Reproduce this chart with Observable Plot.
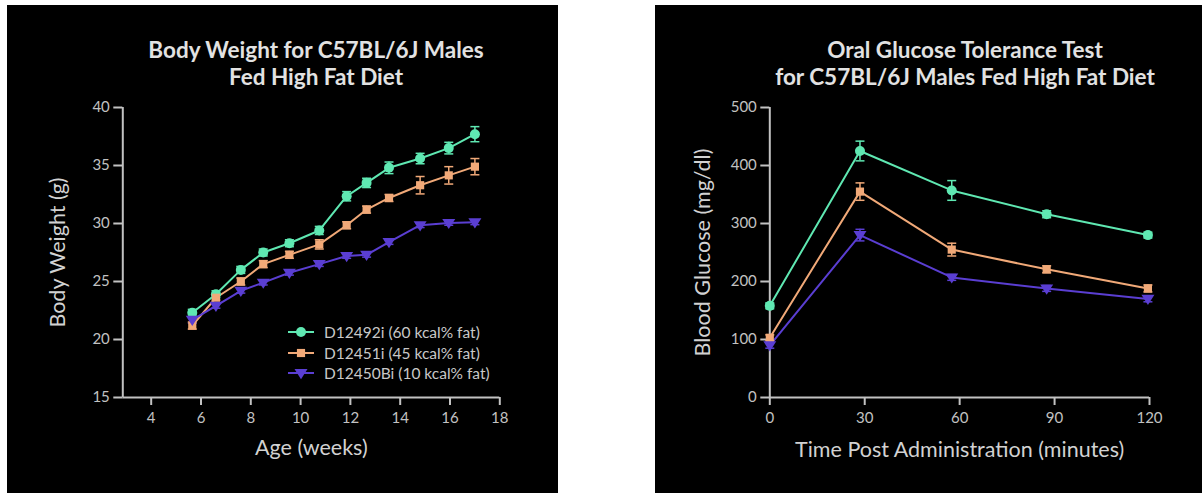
<!DOCTYPE html>
<html>
<head>
<meta charset="utf-8">
<script src="https://cdn.jsdelivr.net/npm/d3@7"></script>
<script src="https://cdn.jsdelivr.net/npm/@observablehq/plot@0.6"></script>
<style>
  html, body { margin: 0; padding: 0; background: #fff; width: 1202px; height: 493px; overflow: hidden; }
  .panel { position: absolute; background: #000; overflow: hidden; }
  .title { position: absolute; transform: translateX(-50%); white-space: nowrap; text-align: center;
           font-family: Lato, "Open Sans", sans-serif; font-weight: bold; color: #e2e2e2; font-size: 22.5px; line-height: 27px; }
  .plotwrap { position: absolute; left: 0; top: 90px; }
  .legend { position: absolute; font-family: Lato, sans-serif; font-size: 15.5px; color: #c8c8c8; }
  .legend .row { position: absolute; left: 0; height: 16px; white-space: nowrap; display: flex; align-items: center; }
  .legend svg { margin-right: 9px; }
</style>
</head>
<body>
<div class="panel" id="left" style="left:7px; top:5px; width:551px; height:488px;">
  <div class="title" style="left:309px; top:31px;">Body Weight for C57BL/6J Males<br>Fed High Fat Diet</div>
  <div class="plotwrap" id="leftPlot"></div>
  <div class="legend" id="legend" style="left:280px; top:319px;"></div>
</div>
<div class="panel" id="right" style="left:655px; top:5px; width:547px; height:488px;">
  <div class="title" style="left:310px; top:31px;">Oral Glucose Tolerance Test<br>for C57BL/6J Males Fed High Fat Diet</div>
  <div class="plotwrap" id="rightPlot"></div>
</div>
<script>
// ---------- data ----------
const seriesNames = ["D12492i (60 kcal% fat)", "D12451i (45 kcal% fat)", "D12450Bi (10 kcal% fat)"];
const seriesColors = ["#5fe8b2", "#f1a978", "#5a3ed2"];

// Body weight chart
const weeks = [5.65, 6.6, 7.6, 8.5, 9.55, 10.75, 11.85, 12.65, 13.55, 14.8, 15.95, 17.0];
const bw60 = [22.3, 23.9, 26.0, 27.5, 28.3, 29.4, 32.35, 33.5, 34.8, 35.6, 36.5, 37.7];
const bw45 = [21.2, 23.6, 25.0, 26.5, 27.3, 28.2, 29.85, 31.2, 32.2, 33.3, 34.15, 34.9];
const bw10 = [21.7, 22.9, 24.2, 24.9, 25.75, 26.5, 27.2, 27.3, 28.4, 29.85, 30.05, 30.1];
const bw60err = [0.3, 0.3, 0.3, 0.3, 0.3, 0.35, 0.4, 0.4, 0.5, 0.45, 0.5, 0.65];
const bw45err = [0.3, 0.2, 0.3, 0.3, 0.3, 0.4, 0.3, 0.3, 0.3, 0.75, 0.75, 0.7];
const bw10err = [0.3, 0.2, 0.2, 0.2, 0.2, 0.2, 0.2, 0.2, 0.2, 0.2, 0.2, 0.2];
const weekTicks = [4, 6, 8, 10, 12, 14, 16, 18];
const weightTicks = [15, 20, 25, 30, 35, 40];

// Glucose chart
const minutes = [0, 28.5, 57.5, 87.5, 119.5];
const g60 = [158, 425, 357, 316, 280];
const g45 = [103, 355, 255, 221, 188];
const g10 = [90, 280, 207, 188, 170];
const g60err = [5, 17, 17, 6, 5];
const g45err = [5, 15, 11, 6, 6];
const g10err = [5, 10, 5, 5, 5];
const minuteTicks = [0, 30, 60, 90, 120];
const glucoseTicks = [0, 100, 200, 300, 400, 500];

// ---------- helpers ----------
function toRows(xs, ysList, errList) {
  const rows = [];
  ysList.forEach((ys, i) => ys.forEach((v, j) => rows.push({
    series: seriesNames[i], x: xs[j], y: v, lo: v - errList[i][j], hi: v + errList[i][j]
  })));
  return rows;
}
const downTriangle = { draw(ctx, size) { const r = Math.sqrt(size / Math.PI) * 1.25;
  ctx.moveTo(-r, -r * 0.62); ctx.lineTo(r, -r * 0.62); ctx.lineTo(0, r * 0.95); ctx.closePath(); } };
const capSymbol = { draw(ctx, size) { const r = Math.sqrt(size / Math.PI);
  ctx.moveTo(-r, 0); ctx.lineTo(r, 0); } };
const symbols = ["circle", "square", downTriangle];
const symbolR = [5, 4.6, 5.2];
const axisColor = "#c2c2c2";

function chart({rows, width, marginLeft, marginRight, xDomain, yDomain, xTicks, yTicks, xLabel, yLabel, xLabelDy, yLabelDx}) {
  const marks = [
    Plot.ruleX([xDomain[0]], {stroke: axisColor, strokeWidth: 2}),
    Plot.ruleY([yDomain[0]], {stroke: axisColor, strokeWidth: 2}),
    Plot.axisX({ticks: xTicks, tickSize: 8, tickPadding: 7, fontSize: 15, strokeWidth: 2, label: null, tickFormat: d => String(d)}),
    Plot.axisY({ticks: yTicks, tickSize: 9, tickPadding: 4, fontSize: 15, strokeWidth: 2, label: null, tickFormat: d => String(d)}),
    Plot.text([xLabel], {frameAnchor: "bottom", lineAnchor: "middle", dy: xLabelDy, fontSize: 21.5, fill: "#d2d2d2"}),
    Plot.text([yLabel], {frameAnchor: "left", textAnchor: "middle", lineAnchor: "middle", dx: yLabelDx, rotate: -90, fontSize: 21.5, fill: "#d2d2d2"}),
    Plot.line(rows, {x: "x", y: "y", z: "series", stroke: "series", strokeWidth: 2})
  ];
  // error bars with caps
  marks.push(Plot.ruleX(rows, {x: "x", y1: "lo", y2: "hi", stroke: "series", strokeWidth: 1.5}));
  marks.push(Plot.dot(rows, {x: "x", y: "hi", symbol: capSymbol, r: 4.5, stroke: "series", fill: "none", strokeWidth: 1.5}));
  marks.push(Plot.dot(rows, {x: "x", y: "lo", symbol: capSymbol, r: 4.5, stroke: "series", fill: "none", strokeWidth: 1.5}));
  seriesNames.forEach((name, i) => {
    marks.push(Plot.dot(rows, {filter: d => d.series === name, x: "x", y: "y", symbol: symbols[i], r: symbolR[i], fill: seriesColors[i], stroke: "none"}));
  });
  return Plot.plot({
    width, height: 398, marginTop: 12, marginBottom: 96, marginLeft, marginRight,
    style: {background: "transparent", color: axisColor, fontFamily: "Lato, sans-serif", overflow: "visible"},
    x: {domain: xDomain}, y: {domain: yDomain},
    color: {domain: seriesNames, range: seriesColors},
    marks
  });
}

document.getElementById("leftPlot").append(chart({
  rows: toRows(weeks, [bw60, bw45, bw10], [bw60err, bw45err, bw10err]),
  width: 551, marginLeft: 115.3, marginRight: 58.7,
  xDomain: [2.86, 18], yDomain: [15, 40], xTicks: weekTicks, yTicks: weightTicks,
  xLabel: "Age (weeks)", yLabel: "Body Weight (g)", xLabelDy: 51, yLabelDx: -65
}));
document.getElementById("rightPlot").append(chart({
  rows: toRows(minutes, [g60, g45, g10], [g60err, g45err, g10err]),
  width: 547, marginLeft: 114.3, marginRight: 53,
  xDomain: [0, 120], yDomain: [0, 500], xTicks: minuteTicks, yTicks: glucoseTicks,
  xLabel: "Time Post Administration (minutes)", yLabel: "Blood Glucose (mg/dl)", xLabelDy: 53, yLabelDx: -67
}));

// legend
const legend = document.getElementById("legend");
seriesNames.forEach((name, i) => {
  const row = document.createElement("div");
  row.className = "row";
  row.style.top = (i * 20.5) + "px";
  const ns = "http://www.w3.org/2000/svg";
  const svg = document.createElementNS(ns, "svg");
  svg.setAttribute("width", 28); svg.setAttribute("height", 16);
  const line = document.createElementNS(ns, "line");
  line.setAttribute("x1", 1); line.setAttribute("x2", 27); line.setAttribute("y1", 8); line.setAttribute("y2", 8);
  line.setAttribute("stroke", seriesColors[i]); line.setAttribute("stroke-width", 2);
  svg.append(line);
  const path = document.createElementNS(ns, "path");
  const sym = typeof symbols[i] === "string" ? (symbols[i] === "circle" ? d3.symbolCircle : d3.symbolSquare) : symbols[i];
  path.setAttribute("d", d3.symbol(sym, Math.PI * symbolR[i] * symbolR[i])());
  path.setAttribute("transform", "translate(14,8)");
  path.setAttribute("fill", seriesColors[i]);
  svg.append(path);
  row.append(svg);
  const span = document.createElement("span");
  span.textContent = name;
  row.append(span);
  legend.append(row);
});
</script>
</body>
</html>
